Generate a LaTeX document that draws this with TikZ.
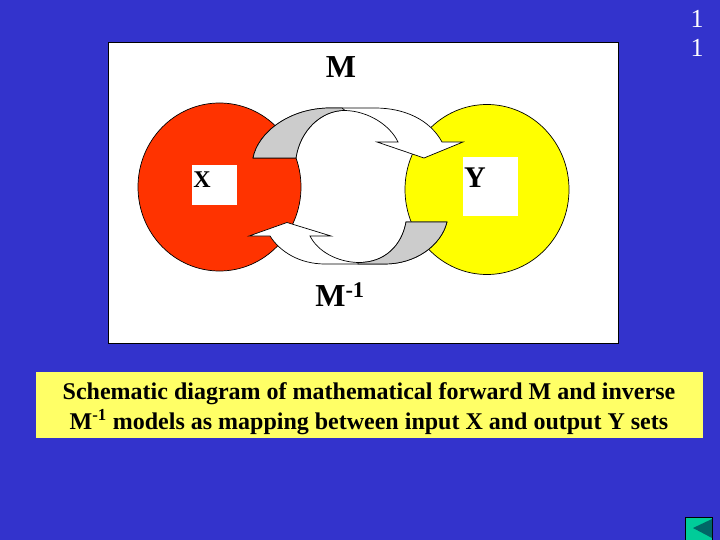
\documentclass[tikz,border=0pt]{standalone}
\usepackage{fontspec}
\setmainfont{Liberation Serif}
\usetikzlibrary{positioning}
\definecolor{slideblue}{HTML}{3333CC}
\definecolor{setred}{HTML}{FF3300}
\definecolor{setyellow}{HTML}{FFFF00}
\definecolor{capyellow}{HTML}{FFFF66}
\definecolor{arcgray}{HTML}{CCCCCC}
\definecolor{btngreen}{HTML}{00CC99}
\definecolor{btndark}{HTML}{006666}
\begin{document}
\begin{tikzpicture}[x=1pt,y=-1pt,
  setshape/.style={draw=black,line width=0.7pt},
  whitebox/.style={fill=white,draw=none},
  arrowshape/.style={draw=black,fill=white,line width=0.7pt,line join=miter},
  grayshape/.style={draw=black,fill=arcgray,line width=0.7pt},
  biglabel/.style={font=\bfseries\fontsize{32}{32}\selectfont,inner sep=0pt},
  pagenum/.style={font=\fontsize{26}{26}\selectfont,text=white,inner sep=0pt}]
\useasboundingbox (0,0) rectangle (720,540);
\fill[slideblue] (0,0) rectangle (720,540);
\draw[fill=white,line width=0.7pt] (108,42) rectangle (618,343);
\draw[setshape,fill=setred] (219.5,187) ellipse (81.5 and 84);
\draw[setshape,fill=setyellow] (487,189.5) ellipse (82 and 85);
\fill[whitebox] (192,165) rectangle (237,205);
\fill[whitebox] (463,157) rectangle (518,216);
% upper arrow
\draw[arrowshape] (253,158) .. controls (258,132) and (290,108) .. (330,108) -- (375,108)
  .. controls (405,108) and (430,120) .. (442,142) -- (463,142) -- (424,158) -- (377,142) -- (398,142)
  .. controls (390,125) and (368,111) .. (345,110.5) .. controls (322,110) and (300,130) .. (296,158) -- cycle;
\draw[grayshape] (253,158) .. controls (258,132) and (290,108) .. (330,108) -- (342,108) -- (345,110.5)
  .. controls (322,110) and (300,130) .. (296,158) -- cycle;
% lower arrow
\draw[arrowshape] (447,222) .. controls (441,246) and (415,264) .. (385,264) -- (325,264)
  .. controls (300,264) and (280,252) .. (270,236) -- (249,236) -- (287,222.5) -- (331,236) -- (310,236)
  .. controls (318,252) and (338,262) .. (358,262.5) .. controls (385,263) and (402,245) .. (406,222) -- cycle;
\draw[grayshape] (447,222) .. controls (441,246) and (415,264) .. (385,264) -- (358,264) -- (358,262.5)
  .. controls (385,263) and (402,245) .. (406,222) -- cycle;
\node[biglabel] (forward) at (341,67) {M};
\node[biglabel] (inverse) at (340,295) {M\textsuperscript{-1}};
\node[biglabel,font=\bfseries\fontsize{24}{24}\selectfont] (inset) at (202,180) {X};
\node[biglabel,font=\bfseries\fontsize{30}{30}\selectfont] (outset) at (475,178) {Y};
\node[pagenum] (digita) at (697,19) {1};
\node[pagenum] (digitb) at (697,48) {1};
\fill[capyellow] (36,372) rectangle (703,438);
\node[font=\bfseries\fontsize{24}{30}\selectfont,align=center,inner sep=0pt] (caption) at (369,408.5)
  {Schematic diagram of mathematical forward M and inverse\\M\textsuperscript{-1} models as mapping between input X and output Y sets};
\draw[black,fill=btngreen,line width=0.7pt] (685,517) rectangle (712,541);
\fill[btndark] (693,528) -- (712,519) -- (712,538) -- cycle;
\end{tikzpicture}
\end{document}
